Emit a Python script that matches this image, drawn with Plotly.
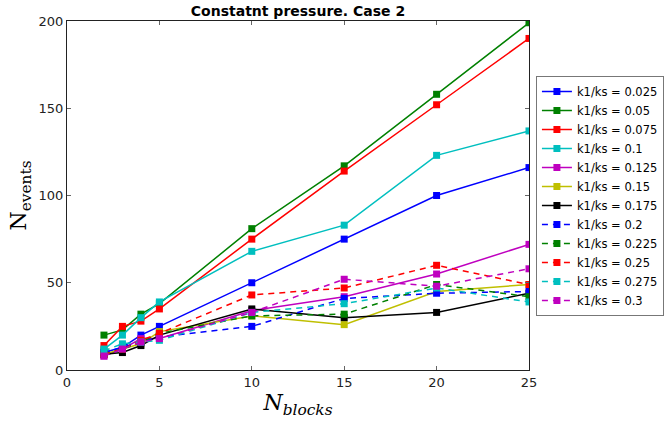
import plotly.graph_objects as go

n_blocks = [2, 3, 4, 5, 10, 15, 20, 25]
labels = ["k1/ks = 0.025", "k1/ks = 0.05", "k1/ks = 0.075", "k1/ks = 0.1",
          "k1/ks = 0.125", "k1/ks = 0.15", "k1/ks = 0.175", "k1/ks = 0.2",
          "k1/ks = 0.225", "k1/ks = 0.25", "k1/ks = 0.275", "k1/ks = 0.3"]
s_0025 = [10, 13, 20, 25, 50, 75, 100, 116]
s_0050 = [20, 23, 32, 38, 81, 117, 158, 199]
s_0075 = [14, 25, 28, 35, 75, 114, 152, 190]
s_0100 = [12, 20, 30, 39, 68, 83, 123, 137]
s_0125 = [8, 12, 18, 18, 34, 42, 55, 72]
s_0150 = [9, 12, 15, 22, 31, 26, 45, 49]
s_0175 = [9, 10, 14, 20, 35, 30, 33, 44]
s_0200 = [10, 13, 16, 19, 25, 41, 44, 45]
s_0225 = [9, 12, 16, 21, 31, 32, 49, 42]
s_0250 = [9, 12, 17, 21, 43, 47, 60, 49]
s_0275 = [11, 15, 16, 17, 33, 38, 47, 39]
s_0300 = [8, 12, 16, 18, 33, 52, 48, 58]
series = [s_0025, s_0050, s_0075, s_0100, s_0125, s_0150, s_0175,
          s_0200, s_0225, s_0250, s_0275, s_0300]

colors = ["#0000ff", "#008000", "#ff0000", "#00bfbf", "#bf00bf", "#bfbf00", "#000000"]

fig = go.Figure()
for i, (lab, vals) in enumerate(zip(labels, series)):
    col = colors[i % 7]
    dash = "solid" if i < 7 else "6px,5px"
    fig.add_trace(go.Scatter(
        x=n_blocks, y=vals, name=lab, mode="lines+markers",
        line=dict(color=col, width=1.5, dash=dash),
        marker=dict(symbol="square", size=7, color=col,
                    line=dict(width=0)),
    ))

axis_common = dict(showgrid=False, zeroline=False, showline=True, mirror="ticks",
                   linecolor="#222", linewidth=1, ticks="inside", ticklen=4,
                   tickcolor="#666", tickfont=dict(family="DejaVu Sans", size=13, color="#222"))

fig.update_layout(
    width=670, height=421,
    margin=dict(l=67, r=141, t=21, b=51, autoexpand=False),
    paper_bgcolor="white", plot_bgcolor="white",
    title=dict(text="Constatnt pressure. Case 2", x=0.5, xanchor="center",
               xref="paper", yref="container",
               y=1 - 11 / 421, yanchor="middle",
               font=dict(family="DejaVu Sans", size=14, color="black", weight="bold")),
    xaxis=dict(range=[0, 25], tickvals=[0, 5, 10, 15, 20, 25],
               title=dict(text="<i>N<sub>blocks</sub></i>", standoff=6,
                          font=dict(family="DejaVu Serif", size=22, color="black")),
               **axis_common),
    yaxis=dict(range=[0, 200], tickvals=[0, 50, 100, 150, 200],
               title=dict(text="N<sub>events</sub>", standoff=5,
                          font=dict(family="DejaVu Serif", size=22, color="black")),
               **axis_common),
    legend=dict(x=1.015, y=(370 - 196) / 349, xanchor="left", yanchor="middle",
                bordercolor="#777", borderwidth=1, bgcolor="white",
                font=dict(family="DejaVu Sans", size=11.5, color="black"),
                tracegroupgap=0, itemwidth=30),
    showlegend=True,
)

fig.write_html("out.html")
